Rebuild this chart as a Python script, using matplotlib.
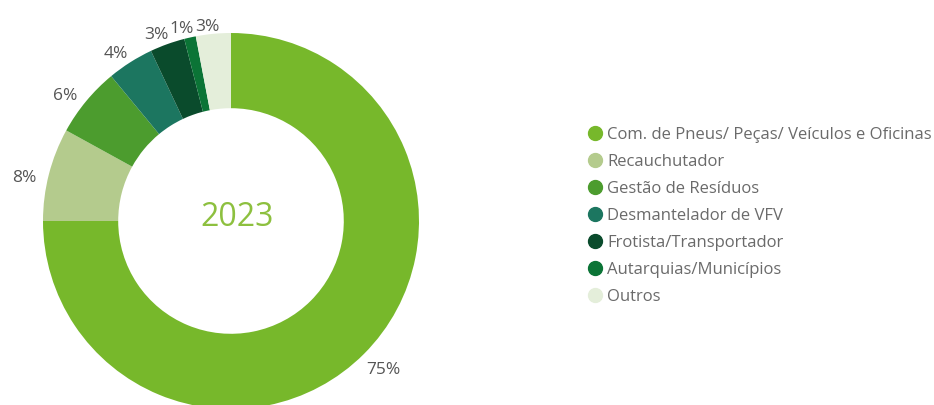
import numpy as np
import matplotlib
matplotlib.use("Agg")
import matplotlib.pyplot as plt
from matplotlib.lines import Line2D

# Data (share of 2023, %)
categories = [
    "Com. de Pneus/ Peças/ Veículos e Oficinas",
    "Recauchutador",
    "Gestão de Resíduos",
    "Desmantelador de VFV",
    "Frotista/Transportador",
    "Autarquias/Municípios",
    "Outros",
]
shares = [75, 8, 6, 4, 3, 1, 3]
colors = ["#77B82B", "#B4CB8D", "#4C9C2E", "#1C7660", "#0A4B2C", "#0B7436", "#E4EEDA"]
year = "2023"

plt.rcParams["font.family"] = ["Open Sans", "DejaVu Sans"]

fig = plt.figure(figsize=(9.34, 4.05), dpi=100)
ax = fig.add_axes([43 / 934, -4 / 405, 376 / 934, 376 / 405])

wedges, _ = ax.pie(
    shares,
    colors=colors,
    startangle=90,
    counterclock=False,
    radius=1.0,
    wedgeprops=dict(width=0.4, linewidth=0),
)

# percentage labels just outside the ring; labels are wider than tall,
# so push them out a bit more on the sides than at the top
for w, v in zip(wedges, shares):
    ang = np.deg2rad((w.theta1 + w.theta2) / 2 + 1.5)
    c, s = np.cos(ang), np.sin(ang)
    r = 1.035 + 0.09 * abs(c) + 0.02 * abs(s)
    ax.text(r * c, r * s - 0.025, f"{v}%",
            ha="center", va="center", fontsize=12.5, color="#555555")

ax.text(0.03, 0.02, year, ha="center", va="center", fontsize=23,
        color="#8DC03F")
ax.set_xlim(-1, 1)
ax.set_ylim(-1, 1)
ax.set_aspect("equal")
ax.axis("off")

handles = [
    Line2D([], [], linestyle="none", marker="o", markersize=10,
           markerfacecolor=c, markeredgecolor=c)
    for c in colors
]
leg = fig.legend(
    handles,
    categories,
    loc="center left",
    bbox_to_anchor=(0.612, 0.467),
    frameon=False,
    fontsize=12,
    handletextpad=0.25,
    labelspacing=0.66,
    handlelength=1.0,
)
for t in leg.get_texts():
    t.set_color("#6A6A6A")

fig.savefig("out.png", dpi=100)
